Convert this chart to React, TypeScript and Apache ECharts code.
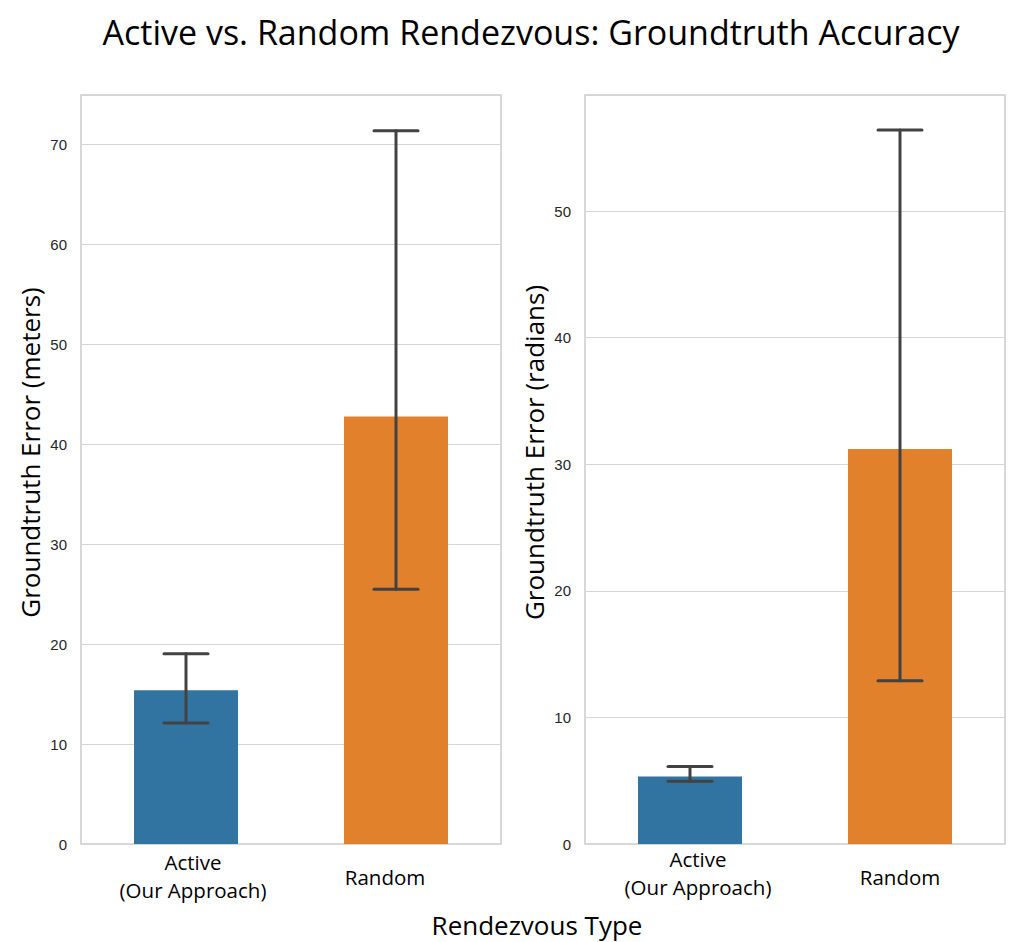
import React, { useEffect, useRef } from "react";
import * as echarts from "echarts";

const categories = ["Active\n(Our Approach)", "Random"];
const metersMean = [15.4, 42.8];
const metersLow = [12.1, 25.5];
const metersHigh = [19.05, 71.4];
const radiansMean = [5.33, 31.2];
const radiansLow = [4.95, 12.9];
const radiansHigh = [6.13, 56.4];
const barColors = ["#3274a1", "#e1812c"];

const FONT = "'Open Sans', 'Noto Sans', sans-serif";
const TICK_FONT = "'Liberation Sans', Arial, sans-serif";

function errorSeries(idx: number, low: number[], high: number[]) {
  return {
    type: "custom",
    xAxisIndex: idx,
    yAxisIndex: idx,
    z: 5,
    encode: { x: 0, y: [1, 2] },
    data: low.map((l, i) => [i, l, high[i]]),
    renderItem: (params: any, api: any) => {
      const x = api.value(0);
      const lo = api.coord([x, api.value(1)]);
      const hi = api.coord([x, api.value(2)]);
      const half = 22;
      const style = { stroke: "#424242", lineWidth: 3, lineCap: "round" };
      return {
        type: "group",
        children: [
          { type: "line", shape: { x1: lo[0], y1: lo[1], x2: hi[0], y2: hi[1] }, style },
          { type: "line", shape: { x1: lo[0] - half, y1: lo[1], x2: lo[0] + half, y2: lo[1] }, style },
          { type: "line", shape: { x1: hi[0] - half, y1: hi[1], x2: hi[0] + half, y2: hi[1] }, style },
        ],
      };
    },
  };
}

function barSeries(idx: number, values: number[]) {
  return {
    type: "bar",
    xAxisIndex: idx,
    yAxisIndex: idx,
    barWidth: 104,
    data: values.map((v, i) => ({ value: v, itemStyle: { color: barColors[i] } })),
  };
}

function xAxis(idx: number, margin: number, activeShift: number, randomShift: number, randomDown: number) {
  return {
    type: "category",
    gridIndex: idx,
    data: categories,
    axisLine: { show: false },
    axisTick: { show: false },
    splitLine: { show: false },
    axisLabel: {
      margin,
      interval: 0,
      formatter: (v: string) =>
        v.startsWith("Active")
          ? v.split("\n").map((s) => `{a|${s}}`).join("\n")
          : `{r|${v}}`,
      rich: {
        a: {
          fontFamily: FONT,
          fontSize: 20.5,
          color: "#000",
          lineHeight: 28,
          padding: activeShift >= 0 ? [0, 0, 0, activeShift * 2] : [0, -activeShift * 2, 0, 0],
        },
        r: {
          fontFamily: FONT,
          fontSize: 20.5,
          color: "#000",
          lineHeight: 28 + randomDown * 2,
          padding: randomShift >= 0 ? [0, 0, 0, randomShift * 2] : [0, -randomShift * 2, 0, 0],
        },
      },
    },
  };
}

function yAxis(idx: number, max: number, name: string) {
  return {
    type: "value",
    gridIndex: idx,
    min: 0,
    max,
    interval: 10,
    name,
    nameLocation: "middle",
    nameGap: 38,
    nameTextStyle: { fontFamily: FONT, fontSize: 26, color: "#000", padding: [0, 0, 0, 34] },
    axisLine: { show: false },
    axisTick: { show: false },
    axisLabel: {
      margin: 14,
      fontFamily: TICK_FONT,
      fontSize: 15,
      color: "#262626",
      showMaxLabel: false,
    },
    splitLine: { show: true, lineStyle: { color: "#d6d6d6", width: 1.2 } },
  };
}

export default function App() {
  const ref = useRef<HTMLDivElement>(null);
  useEffect(() => {
    if (!ref.current) return;
    const chart = echarts.init(ref.current, null, { renderer: "svg" });
    chart.setOption({
      animation: false,
      backgroundColor: "#ffffff",
      title: {
        text: "Active vs. Random Rendezvous: Groundtruth Accuracy",
        left: 526,
        textAlign: "center",
        top: 10,
        textStyle: { fontFamily: FONT, fontSize: 34, fontWeight: "normal", color: "#000" },
      },
      grid: [
        { left: 81, top: 95, width: 420, height: 749, show: true, borderColor: "#cccccc", borderWidth: 1.5, backgroundColor: "transparent" },
        { left: 585, top: 95, width: 420, height: 749, show: true, borderColor: "#cccccc", borderWidth: 1.5, backgroundColor: "transparent" },
      ],
      xAxis: [xAxis(0, 4, 7, -11, 15), xAxis(1, 1, 8, 0, 18)],
      yAxis: [
        yAxis(0, 74.97, "Groundtruth Error (meters)"),
        yAxis(1, 59.17, "Groundtruth Error (radians)"),
      ],
      graphic: [
        {
          type: "text",
          x: 537,
          y: 925,
          style: {
            text: "Rendezvous Type",
            fontFamily: FONT,
            fontSize: 26,
            fill: "#000",
            textAlign: "center",
            textVerticalAlign: "middle",
          },
        },
      ],
      series: [
        barSeries(0, metersMean),
        errorSeries(0, metersLow, metersHigh),
        barSeries(1, radiansMean),
        errorSeries(1, radiansLow, radiansHigh),
      ],
    });
    return () => chart.dispose();
  }, []);
  return (
    <div
      ref={ref}
      style={{ position: "absolute", left: 0, top: 0, width: 1015, height: 942 }}
    />
  );
}
